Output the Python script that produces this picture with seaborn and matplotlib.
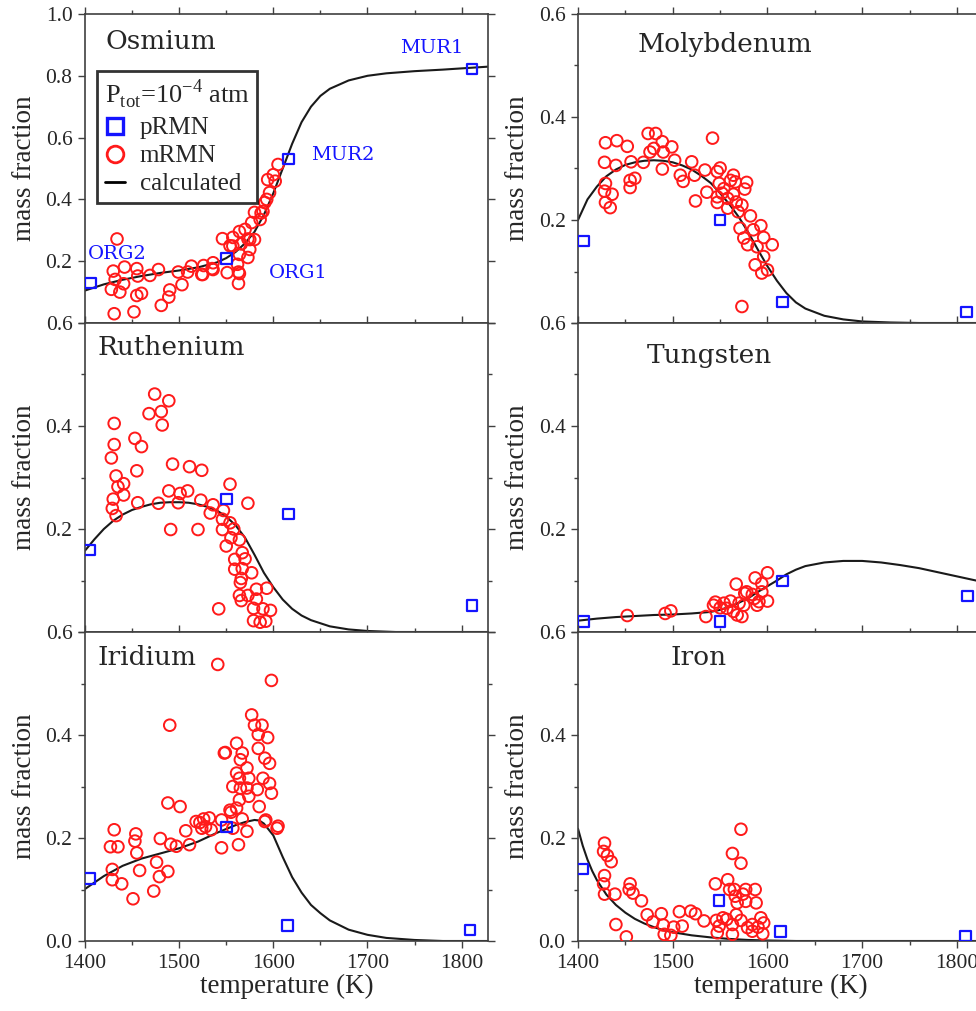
import numpy as np
import pandas as pd
import matplotlib
matplotlib.use("Agg")
import matplotlib.pyplot as plt
import seaborn as sns
from matplotlib.lines import Line2D
from matplotlib.ticker import MultipleLocator

sns.set_style("ticks")
plt.rcParams['font.family'] = ['Liberation Serif', 'DejaVu Serif']
plt.rcParams['mathtext.fontset'] = 'custom'
plt.rcParams['mathtext.rm'] = 'Liberation Serif'

# ---- Osmium ----
os_mT = [1434, 1430, 1432, 1428, 1437, 1441, 1442, 1455, 1456, 1455, 1460, 1469, 1478, 1481, 1431, 1452,
         1490, 1489, 1503, 1499, 1509, 1513, 1524, 1526, 1535, 1536, 1525, 1536, 1546, 1551, 1554, 1557,
         1557, 1562, 1564, 1564, 1566, 1564, 1570, 1573, 1575, 1575, 1573, 1577, 1580, 1580, 1586, 1589,
         1591, 1596, 1594, 1600, 1605, 1602, 1593, 1587, 1563, 1563]
os_mF = [0.272, 0.168, 0.141, 0.109, 0.100, 0.127, 0.181, 0.176, 0.152, 0.089, 0.096, 0.154, 0.173, 0.057,
         0.030, 0.036, 0.107, 0.084, 0.124, 0.165, 0.165, 0.184, 0.157, 0.186, 0.176, 0.195, 0.157, 0.173,
         0.273, 0.163, 0.250, 0.277, 0.249, 0.190, 0.160, 0.222, 0.256, 0.296, 0.303, 0.212, 0.238, 0.270,
         0.272, 0.325, 0.358, 0.270, 0.335, 0.361, 0.390, 0.422, 0.464, 0.480, 0.513, 0.459, 0.400, 0.356,
         0.128, 0.165]
os_pT = [1406, 1550, 1616, 1811]
os_pF = [0.130, 0.208, 0.531, 0.822]
os_cT = [1400, 1420, 1440, 1460, 1480, 1500, 1520, 1540, 1550, 1560, 1570, 1580, 1590, 1600, 1610,
         1620, 1630, 1640, 1650, 1660, 1680, 1700, 1720, 1750, 1780, 1800, 1830]
os_cF = [0.105, 0.125, 0.140, 0.152, 0.162, 0.170, 0.180, 0.196, 0.210, 0.230, 0.258, 0.295, 0.350,
         0.420, 0.500, 0.580, 0.650, 0.700, 0.735, 0.758, 0.785, 0.800, 0.808, 0.815, 0.820, 0.824, 0.830]

# ---- Molybdenum ----
mo_mT = [1429, 1441, 1452, 1428, 1440, 1456, 1469, 1429, 1428, 1436, 1429, 1434, 1455, 1455, 1460, 1474,
         1482, 1476, 1480, 1489, 1490, 1489, 1499, 1502, 1520, 1508, 1511, 1523, 1524, 1534, 1536, 1542,
         1547, 1550, 1549, 1547, 1547, 1552, 1558, 1558, 1564, 1566, 1564, 1567, 1569, 1576, 1578, 1573,
         1582, 1571, 1575, 1579, 1585, 1593, 1596, 1605, 1589, 1596, 1587, 1594, 1600, 1573, 1561, 1554]
mo_mF = [0.350, 0.354, 0.343, 0.312, 0.306, 0.313, 0.312, 0.271, 0.256, 0.250, 0.234, 0.224, 0.277, 0.263,
         0.281, 0.368, 0.368, 0.332, 0.339, 0.352, 0.332, 0.299, 0.342, 0.316, 0.313, 0.287, 0.275, 0.287,
         0.237, 0.297, 0.254, 0.359, 0.294, 0.301, 0.271, 0.245, 0.234, 0.252, 0.242, 0.223, 0.287, 0.274,
         0.250, 0.235, 0.216, 0.260, 0.273, 0.229, 0.208, 0.184, 0.165, 0.152, 0.181, 0.189, 0.166, 0.152,
         0.148, 0.129, 0.113, 0.097, 0.103, 0.032, 0.277, 0.261]
mo_pT = [1406, 1550, 1616, 1810]
mo_pF = [0.159, 0.200, 0.041, 0.021]
mo_cT = [1400, 1410, 1420, 1430, 1440, 1450, 1460, 1470, 1480, 1490, 1500, 1510, 1520, 1530, 1540, 1550,
         1560, 1570, 1580, 1590, 1600, 1610, 1620, 1630, 1640, 1660, 1680, 1700, 1730, 1760, 1830]
mo_cF = [0.200, 0.240, 0.265, 0.285, 0.298, 0.307, 0.312, 0.315, 0.316, 0.315, 0.312, 0.306, 0.298, 0.286,
         0.272, 0.252, 0.230, 0.205, 0.175, 0.142, 0.110, 0.082, 0.058, 0.040, 0.028, 0.014, 0.007, 0.003,
         0.001, 0.0, 0.0]

# ---- Ruthenium ----
ru_mT = [1431, 1431, 1428, 1433, 1435, 1441, 1430, 1429, 1433, 1441, 1453, 1460, 1455, 1456, 1468, 1474,
         1481, 1482, 1489, 1478, 1489, 1493, 1501, 1509, 1499, 1491, 1520, 1511, 1524, 1523, 1536, 1533,
         1547, 1546, 1546, 1554, 1554, 1558, 1555, 1550, 1564, 1559, 1567, 1570, 1559, 1567, 1577, 1566,
         1565, 1573, 1564, 1573, 1566, 1582, 1593, 1582, 1589, 1597, 1579, 1542, 1579, 1586, 1592]
ru_mF = [0.405, 0.364, 0.338, 0.303, 0.282, 0.288, 0.258, 0.240, 0.226, 0.266, 0.376, 0.360, 0.313, 0.251,
         0.424, 0.462, 0.428, 0.402, 0.449, 0.250, 0.274, 0.326, 0.269, 0.274, 0.251, 0.199, 0.199, 0.321,
         0.314, 0.256, 0.247, 0.231, 0.236, 0.219, 0.199, 0.212, 0.287, 0.200, 0.183, 0.167, 0.179, 0.141,
         0.154, 0.142, 0.122, 0.123, 0.115, 0.104, 0.096, 0.250, 0.071, 0.071, 0.061, 0.083, 0.085, 0.064,
         0.045, 0.042, 0.046, 0.045, 0.022, 0.019, 0.021]
ru_pT = [1405, 1550, 1616, 1811]
ru_pF = [0.159, 0.258, 0.229, 0.051]
ru_cT = [1400, 1410, 1420, 1430, 1440, 1450, 1460, 1470, 1480, 1490, 1500, 1510, 1520, 1530, 1540, 1550,
         1560, 1570, 1580, 1590, 1600, 1610, 1620, 1630, 1640, 1660, 1680, 1700, 1730, 1830]
ru_cF = [0.158, 0.180, 0.200, 0.216, 0.228, 0.237, 0.243, 0.248, 0.251, 0.252, 0.252, 0.251, 0.248, 0.243,
         0.236, 0.224, 0.207, 0.183, 0.150, 0.115, 0.087, 0.063, 0.045, 0.032, 0.023, 0.011, 0.005, 0.002,
         0.0, 0.0]

# ---- Tungsten ----
w_mT = [1452, 1492, 1498, 1535, 1543, 1545, 1550, 1554, 1557, 1561, 1564, 1568, 1573, 1567, 1570, 1575,
        1576, 1578, 1584, 1587, 1589, 1591, 1594, 1600, 1600, 1586, 1594]
w_mF = [0.032, 0.036, 0.041, 0.030, 0.052, 0.058, 0.047, 0.056, 0.046, 0.060, 0.040, 0.033, 0.030, 0.093,
        0.056, 0.052, 0.075, 0.078, 0.073, 0.105, 0.052, 0.059, 0.094, 0.115, 0.060, 0.065, 0.078]
w_pT = [1406, 1550, 1616, 1811]
w_pF = [0.020, 0.020, 0.099, 0.070]
w_cT = [1400, 1420, 1440, 1460, 1480, 1500, 1520, 1540, 1550, 1560, 1570, 1580, 1590, 1600, 1610, 1620,
        1630, 1640, 1660, 1680, 1700, 1720, 1740, 1760, 1780, 1800, 1830]
w_cF = [0.022, 0.026, 0.029, 0.031, 0.033, 0.034, 0.036, 0.039, 0.043, 0.049, 0.057, 0.066, 0.078, 0.089,
        0.100, 0.112, 0.121, 0.128, 0.135, 0.138, 0.138, 0.135, 0.130, 0.124, 0.116, 0.108, 0.096]

# ---- Iridium ----
ir_mT = [1541, 1598, 1490, 1431, 1427, 1435, 1429, 1429, 1439, 1454, 1453, 1455, 1458, 1451, 1476, 1479,
         1473, 1488, 1480, 1491, 1497, 1488, 1501, 1507, 1511, 1518, 1522, 1524, 1532, 1534, 1545, 1545,
         1549, 1554, 1557, 1563, 1577, 1580, 1588, 1584, 1594, 1561, 1548, 1567, 1584, 1565, 1591, 1596,
         1572, 1561, 1589, 1564, 1574, 1596, 1557, 1565, 1572, 1583, 1598, 1564, 1574, 1561, 1555, 1585,
         1567, 1526, 1591, 1528, 1605, 1572, 1604, 1592]
ir_mF = [0.537, 0.506, 0.419, 0.216, 0.183, 0.183, 0.139, 0.119, 0.111, 0.208, 0.194, 0.171, 0.137, 0.082,
         0.153, 0.125, 0.097, 0.135, 0.199, 0.188, 0.184, 0.268, 0.261, 0.214, 0.187, 0.232, 0.230, 0.219,
         0.239, 0.216, 0.235, 0.181, 0.366, 0.254, 0.219, 0.187, 0.439, 0.419, 0.419, 0.401, 0.395, 0.384,
         0.365, 0.365, 0.374, 0.352, 0.355, 0.345, 0.336, 0.326, 0.316, 0.316, 0.316, 0.306, 0.300, 0.297,
         0.297, 0.294, 0.287, 0.274, 0.281, 0.258, 0.250, 0.261, 0.237, 0.237, 0.232, 0.222, 0.223, 0.213,
         0.219, 0.235]
ir_pT = [1405, 1550, 1615, 1809]
ir_pF = [0.121, 0.221, 0.030, 0.021]
ir_cT = [1400, 1420, 1440, 1460, 1480, 1500, 1520, 1540, 1560, 1570, 1580, 1585, 1590, 1600, 1610, 1620,
         1630, 1640, 1650, 1660, 1680, 1700, 1720, 1750, 1780, 1830]
ir_cF = [0.101, 0.126, 0.146, 0.160, 0.170, 0.180, 0.193, 0.210, 0.225, 0.231, 0.235, 0.234, 0.228, 0.205,
         0.163, 0.124, 0.094, 0.070, 0.054, 0.040, 0.022, 0.012, 0.006, 0.002, 0.0, 0.0]

# ---- Iron ----
fe_mT = [1428, 1427, 1431, 1435, 1428, 1427, 1428, 1439, 1440, 1451, 1455, 1454, 1458, 1467, 1473, 1479,
         1488, 1490, 1491, 1498, 1501, 1507, 1510, 1519, 1524, 1533, 1547, 1545, 1546, 1549, 1553, 1558,
         1563, 1572, 1572, 1560, 1565, 1557, 1563, 1563, 1566, 1567, 1568, 1572, 1574, 1577, 1577, 1579,
         1584, 1587, 1588, 1584, 1590, 1593, 1596, 1595]
fe_mF = [0.190, 0.174, 0.166, 0.154, 0.127, 0.111, 0.091, 0.091, 0.032, 0.008, 0.111, 0.100, 0.093, 0.078,
         0.051, 0.037, 0.053, 0.031, 0.013, 0.011, 0.027, 0.057, 0.029, 0.058, 0.053, 0.039, 0.016, 0.111,
         0.040, 0.029, 0.045, 0.119, 0.170, 0.151, 0.217, 0.100, 0.100, 0.042, 0.032, 0.013, 0.087, 0.051,
         0.074, 0.040, 0.091, 0.077, 0.100, 0.026, 0.019, 0.100, 0.074, 0.032, 0.027, 0.045, 0.035, 0.014]
fe_pT = [1405, 1549, 1614, 1809]
fe_pF = [0.140, 0.079, 0.019, 0.010]
fe_cT = [1400, 1405, 1410, 1415, 1420, 1430, 1440, 1450, 1460, 1470, 1480, 1490, 1500, 1520, 1540, 1560,
         1580, 1600, 1630, 1830]
fe_cF = [0.218, 0.185, 0.158, 0.136, 0.118, 0.090, 0.070, 0.055, 0.043, 0.034, 0.027, 0.021, 0.017, 0.011,
         0.007, 0.004, 0.002, 0.001, 0.0, 0.0]

panels = [
    ("Osmium", os_mT, os_mF, os_pT, os_pF, os_cT, os_cF, (0.052, 0.91)),
    ("Molybdenum", mo_mT, mo_mF, mo_pT, mo_pF, mo_cT, mo_cF, (0.146, 0.90)),
    ("Ruthenium", ru_mT, ru_mF, ru_pT, ru_pF, ru_cT, ru_cF, (0.03, 0.92)),
    ("Tungsten", w_mT, w_mF, w_pT, w_pF, w_cT, w_cF, (0.17, 0.896)),
    ("Iridium", ir_mT, ir_mF, ir_pT, ir_pF, ir_cT, ir_cF, (0.03, 0.916)),
    ("Iron", fe_mT, fe_mF, fe_pT, fe_pF, fe_cT, fe_cF, (0.227, 0.916)),
]

RED = "#ff1a1a"
BLUE = "#1414ff"
SPINE = "#404040"

fig = plt.figure(figsize=(9.76, 10.11), dpi=100)
W = 1011.0
h = 309.0 / W
bottoms = [(1011 - 323) / W, (1011 - 632) / W, (1011 - 941) / W]
lefts = [85 / 976.0, 578 / 976.0]
widths = [403 / 976.0, 405.5 / 976.0]

for i, (name, mT, mF, pT, pF, cT, cF, tpos) in enumerate(panels):
    row, col = i // 2, i % 2
    ax = fig.add_axes([lefts[col], bottoms[row], widths[col], h])
    sns.lineplot(x=cT, y=cF, ax=ax, color="#1a1a1a", lw=1.5, zorder=2)
    sns.scatterplot(x=mT, y=mF, ax=ax, marker="o", s=70, facecolor="none",
                    edgecolor=RED, linewidth=1.4, zorder=3)
    sns.scatterplot(x=pT, y=pF, ax=ax, marker="s", s=58, facecolor="none",
                    edgecolor=BLUE, linewidth=1.6, zorder=4)
    ax.set_xlim(1400, 1828)
    ax.xaxis.set_major_locator(MultipleLocator(100))
    ax.xaxis.set_minor_locator(MultipleLocator(50))
    if i == 0:
        ax.set_ylim(0, 1.0)
        ax.set_yticks([0, 0.2, 0.4, 0.6, 0.8, 1.0])
        ax.set_yticklabels(["", "0.2", "0.4", "0.6", "0.8", "1.0"])
    else:
        ax.set_ylim(0, 0.6)
        ax.set_yticks([0, 0.2, 0.4, 0.6])
        ax.yaxis.set_minor_locator(MultipleLocator(0.1))
        if row == 2:
            ax.set_yticklabels(["0.0", "0.2", "0.4", "0.6"])
        else:
            ax.set_yticklabels(["", "0.2", "0.4", "0.6"])
    ax.tick_params(axis="both", which="both", direction="out", top=True, right=True,
                   color=SPINE, width=1.0, labelsize=15.5, pad=4)
    ax.tick_params(which="major", length=5)
    ax.tick_params(which="minor", length=3)
    if row < 2:
        ax.tick_params(axis="x", labelbottom=False)
        ax.set_xlabel("")
    else:
        ax.set_xlabel("temperature (K)", fontsize=19.5, labelpad=1)
    ax.set_ylabel("mass fraction", fontsize=19.5, labelpad=6)
    for sp in ax.spines.values():
        sp.set_color(SPINE)
        sp.set_linewidth(1.2)
    ax.text(tpos[0], tpos[1], name, transform=ax.transAxes, fontsize=19,
            family="DejaVu Serif", ha="left", va="center")

    if i == 0:
        ax.text(1768, 0.89, "MUR1", color=BLUE, fontsize=14, family="DejaVu Serif", ha="center", va="center")
        ax.text(1674, 0.545, "MUR2", color=BLUE, fontsize=14, family="DejaVu Serif", ha="center", va="center")
        ax.text(1626, 0.163, "ORG1", color=BLUE, fontsize=14, family="DejaVu Serif", ha="center", va="center")
        ax.text(1434, 0.222, "ORG2", color=BLUE, fontsize=14, family="DejaVu Serif", ha="center", va="center")
        handles = [
            Line2D([], [], marker="s", ls="none", mfc="none", mec=BLUE, mew=2.4, ms=12, label="pRMN"),
            Line2D([], [], marker="o", ls="none", mfc="none", mec=RED, mew=2.0, ms=12, label="mRMN"),
            Line2D([], [], color="black", lw=2.0, label="calculated"),
        ]
        leg = ax.legend(handles=handles, title=r"P$_{\rm tot}$=10$^{-4}$ atm", loc="upper left",
                        bbox_to_anchor=(0.03, 0.816), frameon=True, fancybox=False,
                        fontsize=18, title_fontsize=19, handlelength=0.8, handletextpad=0.6,
                        borderpad=0.3, labelspacing=0.22, borderaxespad=0)
        leg.get_frame().set_edgecolor("black")
        leg.get_frame().set_linewidth(2.0)
        leg._legend_box.align = "left"

fig.savefig("out.png", dpi=100)
